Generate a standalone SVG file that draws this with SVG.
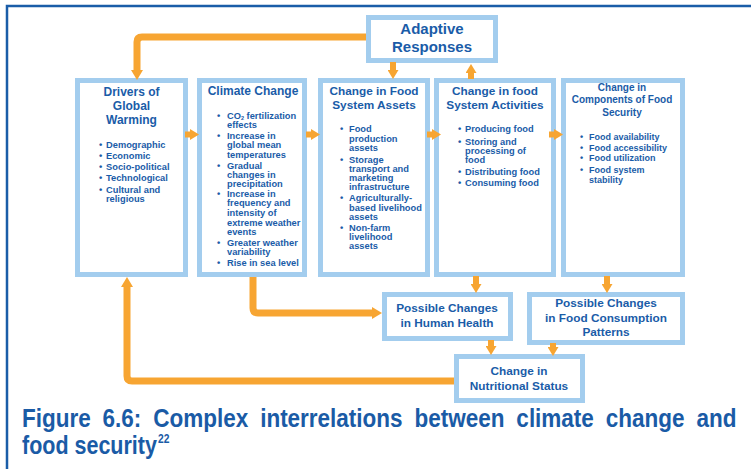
<svg xmlns="http://www.w3.org/2000/svg" width="751" height="469" viewBox="0 0 751 469">
<style>
.box{fill:#fff;stroke:#A3CDEE;stroke-width:5}
.t{font-family:"Liberation Sans",Arial,sans-serif;font-weight:bold;fill:#1A5CA8}
.h{font-size:12px;text-anchor:middle}
.hs{font-size:11.8px;text-anchor:middle}
.b{font-size:9.3px}
.c{fill:none;stroke:#F7A532;stroke-width:7;stroke-linejoin:round}
.s{fill:none;stroke:#F7A532;stroke-width:6}
.cap{font-family:"Liberation Sans",Arial,sans-serif;font-weight:bold;fill:#1A5BA6}
</style>
<defs>
<marker id="big" viewBox="0 -6 10 12" refX="0" refY="0" markerWidth="10" markerHeight="12" markerUnits="userSpaceOnUse" orient="auto"><path d="M0,-6 L10,0 L0,6 z" fill="#F7A532"/></marker>
<marker id="sm" viewBox="0 -5.5 9 11" refX="0" refY="0" markerWidth="9" markerHeight="11" markerUnits="userSpaceOnUse" orient="auto"><path d="M0,-5.5 L9,0 L0,5.5 z" fill="#F7A532"/></marker>
</defs>
<path d="M7,469 V6 H751" fill="none" stroke="#1A5DA8" stroke-width="2.5"/>

<g id="adaptive">
<rect class="box" x="368.5" y="17.5" width="127" height="43"/>
<text class="t" x="432" y="34" font-size="15" text-anchor="middle">Adaptive</text>
<text class="t" x="432" y="52" font-size="15" text-anchor="middle">Responses</text>
</g>

<g id="drivers">
<rect class="box" x="77.5" y="80.5" width="108" height="194"/>
<text class="t h" x="131.5" y="96">Drivers of</text>
<text class="t h" x="131.5" y="110">Global</text>
<text class="t h" x="131.5" y="124">Warming</text>
<g class="t b">
<text x="99" y="148">•</text><text x="106" y="148">Demographic</text>
<text x="99" y="159">•</text><text x="106" y="159">Economic</text>
<text x="99" y="170">•</text><text x="106" y="170">Socio-political</text>
<text x="99" y="181">•</text><text x="106" y="181">Technological</text>
<text x="99" y="193">•</text><text x="106" y="193">Cultural and</text>
<text x="106" y="202">religious</text>
</g>
</g>

<g id="climate">
<rect class="box" x="199.5" y="80.5" width="105" height="194"/>
<text class="t h" x="253" y="95">Climate Change</text>
<g class="t b">
<text x="217" y="118.5">•</text><text x="227" y="118.5">CO<tspan font-size="5.5" dy="1.5">2</tspan><tspan dy="-1.5"> fertilization</tspan></text>
<text x="227" y="128">effects</text>
<text x="217" y="139">•</text><text x="227" y="139">Increase in</text>
<text x="227" y="148">global mean</text>
<text x="227" y="158">temperatures</text>
<text x="217" y="169">•</text><text x="227" y="169">Gradual</text>
<text x="227" y="178">changes in</text>
<text x="227" y="187">precipitation</text>
<text x="217" y="197">•</text><text x="227" y="197">Increase in</text>
<text x="227" y="206">frequency and</text>
<text x="227" y="216">intensity of</text>
<text x="227" y="226">extreme weather</text>
<text x="227" y="235">events</text>
<text x="217" y="246">•</text><text x="227" y="246">Greater weather</text>
<text x="227" y="255">variability</text>
<text x="217" y="266">•</text><text x="227" y="266">Rise in sea level</text>
</g>
</g>

<g id="assets">
<rect class="box" x="320.5" y="80.5" width="107" height="194"/>
<text class="t hs" x="374" y="95">Change in Food</text>
<text class="t hs" x="374" y="109">System Assets</text>
<g class="t b">
<text x="340" y="132">•</text><text x="349" y="132">Food</text>
<text x="349" y="142">production</text>
<text x="349" y="151">assets</text>
<text x="340" y="163">•</text><text x="349" y="163">Storage</text>
<text x="349" y="172">transport and</text>
<text x="349" y="181">marketing</text>
<text x="349" y="190">infrastructure</text>
<text x="340" y="201">•</text><text x="349" y="201">Agriculturally-</text>
<text x="349" y="211">based livelihood</text>
<text x="349" y="220">assets</text>
<text x="340" y="231">•</text><text x="349" y="231">Non-farm</text>
<text x="349" y="240">livelihood</text>
<text x="349" y="249">assets</text>
</g>
</g>

<g id="activities">
<rect class="box" x="436.5" y="80.5" width="117" height="194"/>
<text class="t hs" x="495" y="95">Change in food</text>
<text class="t hs" x="495" y="109">System Activities</text>
<g class="t b">
<text x="458" y="132">•</text><text x="465" y="132">Producing food</text>
<text x="458" y="145">•</text><text x="465" y="145">Storing and</text>
<text x="465" y="154">processing of</text>
<text x="465" y="163">food</text>
<text x="458" y="174.5">•</text><text x="465" y="174.5">Distributing food</text>
<text x="458" y="186">•</text><text x="465" y="186">Consuming food</text>
</g>
</g>

<g id="components">
<rect class="box" x="563.5" y="80.5" width="119" height="194"/>
<text class="t" x="622" y="91" font-size="10" text-anchor="middle">Change in</text>
<text class="t" x="622" y="103" font-size="10" text-anchor="middle">Components of Food</text>
<text class="t" x="622" y="116" font-size="10" text-anchor="middle">Security</text>
<g class="t" font-size="9">
<text x="580" y="140">•</text><text x="589" y="140">Food availability</text>
<text x="580" y="151">•</text><text x="589" y="151">Food accessibility</text>
<text x="580" y="161">•</text><text x="589" y="161">Food utilization</text>
<text x="580" y="173">•</text><text x="589" y="173">Food system</text>
<text x="589" y="183">stability</text>
</g>
</g>

<g id="health">
<rect class="box" x="384.5" y="294.5" width="126" height="44"/>
<text class="t hs" x="447" y="312">Possible Changes</text>
<text class="t hs" x="447" y="327">in Human Health</text>
</g>

<g id="consumption">
<rect class="box" x="529.5" y="294.5" width="153" height="48"/>
<text class="t hs" x="606" y="307">Possible Changes</text>
<text class="t hs" x="606" y="322">in Food Consumption</text>
<text class="t hs" x="606" y="336">Patterns</text>
</g>

<g id="nutrition">
<rect class="box" x="456.5" y="356.5" width="126" height="44"/>
<text class="t hs" x="519" y="375">Change in</text>
<text class="t hs" x="519" y="390">Nutritional Status</text>
</g>

<g id="connectors">
<path class="c" d="M366,37 H142 Q137,37 137,42 V70" marker-end="url(#big)"/>
<path class="c" d="M253,277 V308 Q253,313 258,313 H372" marker-end="url(#big)"/>
<path class="c" d="M454,381 H132 Q127,381 127,376 V287" marker-end="url(#big)"/>
<path class="s" d="M185,134.5 H190" marker-end="url(#sm)"/>
<path class="s" d="M306,134.5 H311" marker-end="url(#sm)"/>
<path class="s" d="M427,134.5 H432" marker-end="url(#sm)"/>
<path class="s" d="M549,134.5 H554" marker-end="url(#sm)"/>
<path class="s" d="M393,62 V70" marker-end="url(#sm)"/>
<path class="s" d="M471,79 V73" marker-end="url(#sm)"/>
<path class="s" d="M476,276 V284" marker-end="url(#sm)"/>
<path class="s" d="M607,276 V284" marker-end="url(#sm)"/>
<path class="s" d="M491,340 V346" marker-end="url(#sm)"/>
<path class="s" d="M553,343 V347" marker-end="url(#sm)"/>
</g>

<g id="caption">
<text class="cap" transform="translate(22,427) scale(0.9,1)" x="0" y="0" font-size="25" word-spacing="6.3">Figure 6.6: Complex interrelations between climate change and</text>
<text class="cap" transform="translate(22,454) scale(0.86,1)" x="0" y="0" font-size="25">food security</text>
<text class="cap" transform="translate(158,443) scale(0.86,1)" x="0" y="0" font-size="12">22</text>
</g>
</svg>
